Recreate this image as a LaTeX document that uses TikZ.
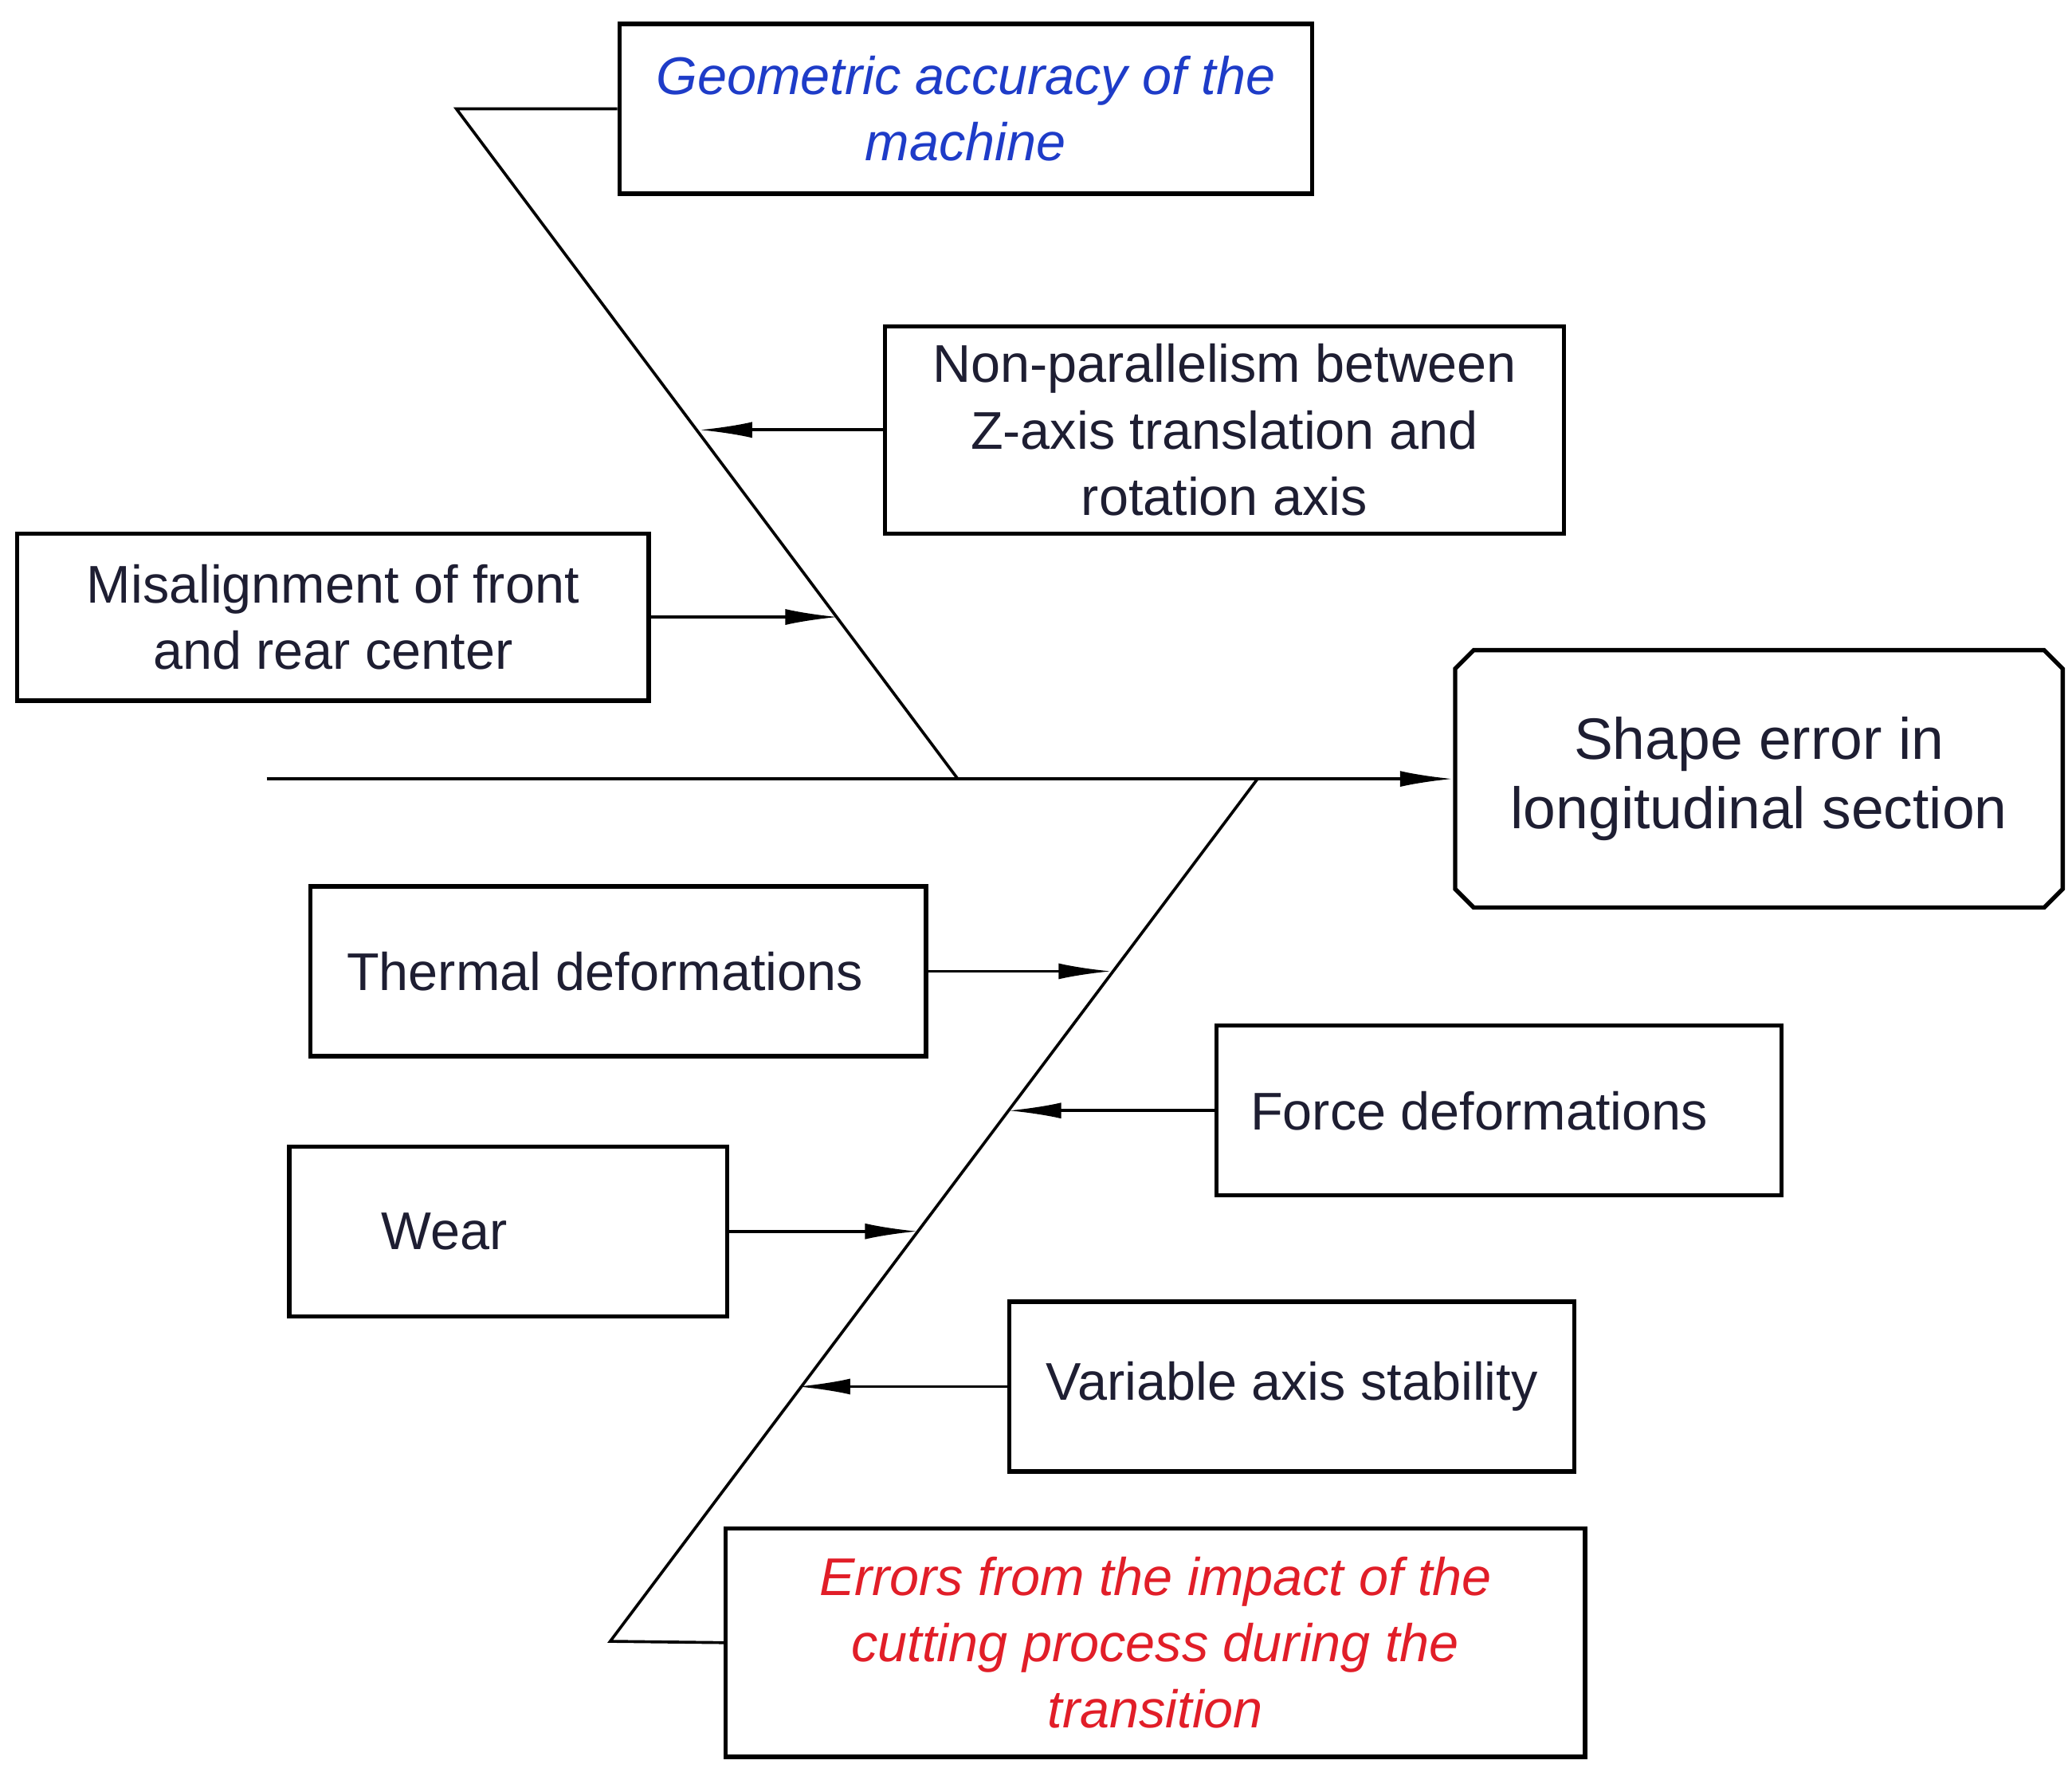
\documentclass[tikz,border=0pt]{standalone}
\usepackage{fontspec}
\setmainfont{Liberation Sans}
\usetikzlibrary{arrows.meta,shapes.misc}
\definecolor{txt}{RGB}{30,30,50}
\definecolor{blu}{RGB}{30,60,200}
\definecolor{rd}{RGB}{225,30,40}
\begin{document}
\begin{tikzpicture}[x=0.5pt,y=-0.5pt,
  box/.style={draw,line width=1.6pt,align=center,inner sep=0pt,font=\fontsize{20}{25}\selectfont,text=txt},
  ln/.style={line width=1.1pt},
  arr/.style={ln,-{Latex[length=20pt,width=6pt]}}]
\useasboundingbox (0,0) rectangle (1562,1335);
\node[box,minimum width=261pt,minimum height=64pt,text=blu,font=\fontsize{20}{25}\selectfont\itshape] (geo) at (728,82) {Geometric accuracy of the\\machine};
\node[box,minimum width=256pt,minimum height=78pt] (np) at (923,324) {Non-parallelism between\\Z-axis translation and\\rotation axis};
\node[box,minimum width=238pt,minimum height=63pt] (mis) at (251,465) {Misalignment of front\\and rear center};
\node[box,chamfered rectangle,chamfered rectangle xsep=3.5pt,chamfered rectangle ysep=3.5pt,minimum width=229pt,minimum height=97pt,font=\fontsize{22}{26}\selectfont] (se) at (1326,587) {Shape error in\\longitudinal section};
\node[box,minimum width=232pt,minimum height=64pt] (th) at (466,732) {\hspace*{-10pt}Thermal deformations};
\node[box,minimum width=213pt,minimum height=64pt] (fo) at (1130,837) {\hspace*{-15pt}Force deformations};
\node[box,minimum width=165pt,minimum height=64pt] (we) at (383,928) {\hspace*{-48pt}Wear};
\node[box,minimum width=213pt,minimum height=64pt] (va) at (974,1045) {Variable axis stability};
\node[box,minimum width=324pt,minimum height=86pt,text=rd,font=\fontsize{20}{25}\selectfont\itshape] (er) at (871,1238) {Errors from the impact of the\\cutting process during the\\transition};
\coordinate (t0) at (344,82);
\coordinate (t1) at (722,587);
\coordinate (m0) at (201,587);
\coordinate (b0) at (948,587);
\coordinate (b1) at (460,1237);
\draw[ln] (geo.west) -- (t0) -- (t1);
\draw[arr] (m0) -- (se.west);
\draw[ln] (b0) -- (b1) -- (er.west);
\draw[arr] (np.west) -- (527,324);
\draw[arr] (mis.east) -- (632,465);
\draw[arr] (th.east) -- (838,732);
\draw[arr] (fo.west) -- (760,837);
\draw[arr] (we.east) -- (692,928);
\draw[arr] (va.west) -- (601,1045);
\end{tikzpicture}
\end{document}
